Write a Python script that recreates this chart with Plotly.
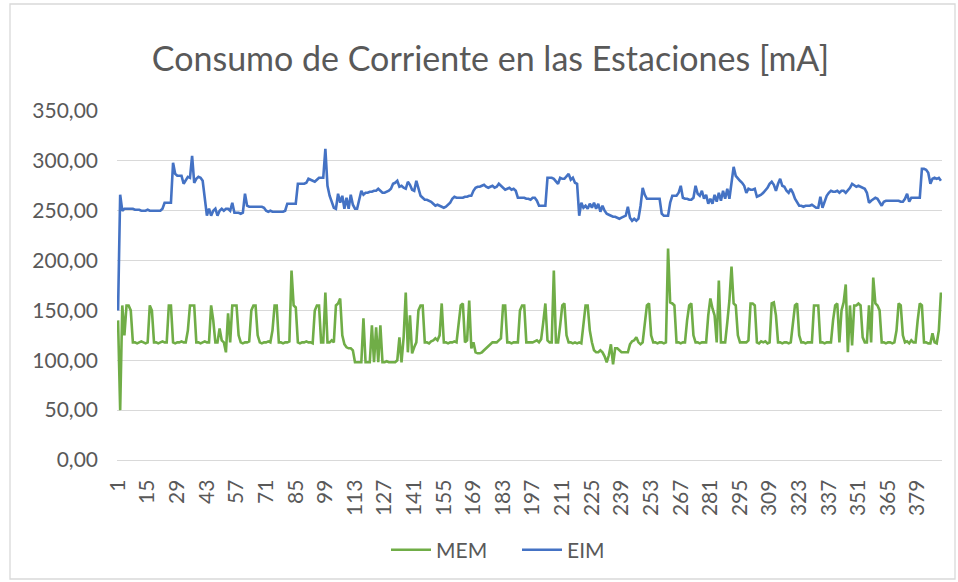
import plotly.graph_objects as go

# Sample index (one reading per station sample)
samples = list(range(1, 391))

# Current draw of the MEM station [mA]
mem = [
    140, 50, 155, 125, 155, 155, 150, 118, 118, 117,
    118, 119, 118, 117, 118, 155, 150, 118, 118, 117,
    118, 119, 118, 118, 155, 155, 118, 117, 118, 118,
    119, 118, 118, 130, 155, 155, 155, 118, 118, 117,
    118, 119, 118, 118, 155, 140, 118, 118, 132, 120,
    118, 108, 147, 118, 155, 155, 155, 125, 118, 117,
    118, 118, 119, 150, 155, 155, 125, 118, 117, 118,
    118, 119, 118, 130, 155, 155, 118, 118, 117, 118,
    118, 119, 190, 155, 153, 118, 117, 118, 118, 119,
    118, 118, 117, 150, 155, 155, 118, 118, 168, 118,
    118, 120, 118, 155, 157, 162, 125, 116, 113, 112,
    112, 110, 98, 98, 98, 98, 142, 98, 98, 98,
    135, 98, 133, 98, 135, 98, 98, 99, 98, 98,
    98, 98, 100, 123, 98, 123, 168, 108, 145, 107,
    113, 118, 150, 155, 155, 118, 118, 117, 119, 120,
    122, 120, 125, 157, 118, 118, 117, 118, 118, 119,
    118, 135, 155, 157, 118, 120, 160, 112, 118, 108,
    107, 107, 108, 110, 112, 115, 117, 118, 118, 118,
    120, 122, 155, 155, 118, 118, 117, 118, 118, 118,
    150, 155, 155, 118, 118, 118, 118, 119, 120, 118,
    121, 138, 157, 120, 118, 118, 190, 118, 118, 135,
    155, 157, 125, 118, 118, 117, 118, 117, 118, 117,
    140, 155, 155, 130, 118, 110, 108, 108, 110, 108,
    104, 98, 105, 116, 96, 112, 112, 110, 108, 108,
    108, 108, 116, 119, 120, 123, 118, 116, 118, 140,
    155, 157, 125, 118, 118, 117, 118, 118, 117, 118,
    212, 158, 157, 155, 118, 118, 117, 118, 118, 140,
    155, 157, 125, 118, 118, 117, 118, 118, 118, 145,
    162, 152, 145, 118, 180, 118, 118, 118, 138, 160,
    194, 157, 155, 125, 118, 118, 118, 118, 120, 157,
    157, 155, 118, 117, 119, 118, 119, 117, 118, 157,
    158, 145, 118, 118, 117, 118, 118, 117, 118, 140,
    155, 157, 125, 118, 118, 117, 118, 118, 118, 155,
    155, 155, 118, 118, 117, 118, 118, 118, 140, 155,
    157, 118, 150, 158, 176, 108, 155, 115, 155, 155,
    157, 155, 123, 118, 118, 155, 118, 183, 157, 155,
    150, 118, 118, 117, 118, 118, 117, 118, 130, 157,
    155, 125, 118, 119, 117, 120, 118, 118, 140, 157,
    155, 118, 118, 117, 117, 127, 118, 117, 130, 168,
]

# Current draw of the EIM station [mA]
eim = [
    150, 266, 250, 252, 252, 252, 252, 252, 251, 251,
    251, 250, 250, 250, 251, 250, 250, 250, 250, 250,
    250, 252, 258, 258, 258, 258, 298, 287, 285, 285,
    285, 277, 280, 284, 283, 305, 278, 282, 284, 283,
    280, 265, 245, 252, 245, 250, 252, 245, 250, 252,
    250, 252, 252, 250, 258, 248, 248, 248, 247, 248,
    267, 255, 254, 254, 254, 254, 254, 254, 254, 253,
    250, 249, 250, 249, 249, 249, 249, 249, 249, 250,
    257, 257, 257, 257, 257, 277, 277, 277, 277, 278,
    282, 281, 280, 279, 281, 283, 283, 283, 312, 275,
    265, 258, 253, 252, 267, 258, 265, 252, 263, 252,
    266, 256, 252, 252, 262, 270, 266, 268, 268, 269,
    269, 270, 270, 272, 270, 268, 268, 269, 270, 272,
    277, 278, 280, 274, 275, 273, 272, 279, 276, 271,
    270, 280, 273, 265, 263, 261, 261, 260, 259, 257,
    255, 256, 255, 254, 253, 254, 256, 258, 262, 264,
    263, 263, 263, 263, 264, 264, 265, 265, 270, 273,
    274, 274, 275, 276, 274, 273, 274, 275, 273, 274,
    277, 275, 273, 271, 272, 273, 271, 272, 270, 263,
    263, 263, 263, 262, 262, 261, 263, 263, 260, 255,
    255, 255, 255, 283, 283, 283, 282, 280, 277, 283,
    282, 282, 284, 287, 281, 283, 278, 277, 245, 258,
    253, 255, 252, 257, 253, 258, 252, 257, 249, 255,
    250, 247, 246, 245, 244, 244, 243, 242, 243, 244,
    245, 254, 243, 240, 242, 240, 242, 255, 273, 266,
    262, 262, 262, 262, 262, 262, 262, 247, 245, 245,
    245, 258, 265, 265, 265, 268, 275, 263, 262, 262,
    261, 261, 263, 275, 267, 265, 270, 262, 266, 257,
    262, 257, 266, 259, 268, 260, 270, 262, 272, 262,
    280, 294, 285, 282, 280, 278, 275, 268, 272, 271,
    271, 272, 264, 265, 266, 268, 270, 273, 277, 279,
    276, 270, 277, 282, 275, 274, 270, 268, 272, 268,
    262, 258, 255, 255, 254, 255, 255, 255, 256, 254,
    253, 253, 264, 253, 260, 265, 268, 270, 269, 269,
    270, 268, 270, 270, 268, 270, 273, 277, 275, 274,
    275, 274, 273, 272, 268, 258, 260, 262, 263, 262,
    258, 255, 259, 260, 260, 260, 260, 260, 260, 260,
    259, 259, 262, 267, 259, 263, 263, 263, 263, 263,
    292, 292, 291, 288, 277, 282, 283, 282, 283, 280,
]

# Category labels shown every 14 samples
x_ticks = list(range(1, 390, 14))
y_ticks = [0, 50, 100, 150, 200, 250, 300, 350]

TEXT = "#595959"
GRID = "#D9D9D9"
FONT = "Lato, 'Open Sans', sans-serif"

fig = go.Figure()
fig.add_trace(go.Scatter(
    x=samples, y=mem, name="MEM", mode="lines",
    line=dict(color="#70AD47", width=2.6),
))
fig.add_trace(go.Scatter(
    x=samples, y=eim, name="EIM", mode="lines",
    line=dict(color="#4472C4", width=2.6),
))

fig.update_layout(
    width=958, height=582,
    margin=dict(l=117, r=16, t=111, b=122, pad=0),
    paper_bgcolor="white", plot_bgcolor="white",
    separators=",.",
    font=dict(family=FONT, color=TEXT, size=21),
    title=dict(
        text="Consumo de Corriente en las Estaciones [mA]",
        x=0.512, xref="container", xanchor="center",
        y=0.898, yref="container", yanchor="middle",
        font=dict(family=FONT, size=34, color=TEXT),
    ),
    showlegend=True,
    legend=dict(
        orientation="h", x=(386 - 117) / 825, xanchor="left",
        y=-0.258, yanchor="middle",
        font=dict(family=FONT, size=21, color=TEXT),
        itemwidth=40, traceorder="normal",
        entrywidth=76, entrywidthmode="pixels",
    ),
    xaxis=dict(
        range=[0.5, 390.5], tickmode="array", tickvals=x_ticks,
        ticktext=[str(v) for v in x_ticks], tickangle=-90,
        showgrid=False, zeroline=False, showline=True, linecolor=GRID, linewidth=1.3,
        ticks="", ticklabelstandoff=10,
        tickfont=dict(family=FONT, size=21, color=TEXT),
    ),
    yaxis=dict(
        range=[0, 350], tickmode="array", tickvals=y_ticks, tickformat=".2f",
        showgrid=True, gridcolor=GRID, gridwidth=1.3, zeroline=False, showline=False,
        ticks="", ticklabelstandoff=18,
        tickfont=dict(family=FONT, size=21, color=TEXT),
    ),
    shapes=[dict(
        type="rect", xref="paper", yref="paper",
        x0=(10 - 117) / 825, x1=(955 - 117) / 825,
        y0=(460 - 579) / 349, y1=(460 - 4) / 349,
        line=dict(color=GRID, width=1.3), fillcolor="rgba(0,0,0,0)", layer="below",
    )],
)

fig.write_html("out.html")
